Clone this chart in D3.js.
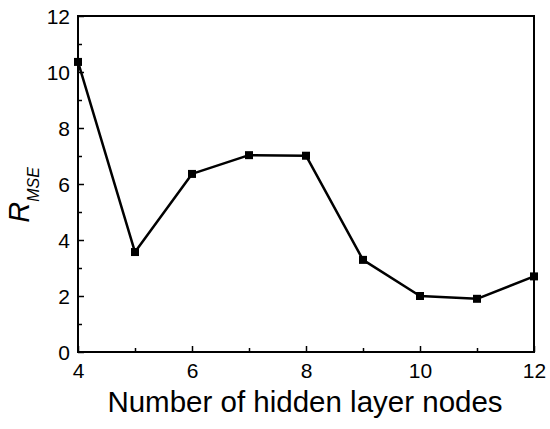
<!DOCTYPE html>
<html><head><meta charset="utf-8">
<script src="https://cdn.jsdelivr.net/npm/d3@7"></script>
<style>body{margin:0;background:#fff}svg{display:block}text{font-family:"Liberation Sans",Arial,sans-serif;fill:#000}</style>
</head><body><svg id="c" width="550" height="429"></svg>
<script>
const nodes = [4, 5, 6, 7, 8, 9, 10, 11, 12];
const rmse = [10.36, 3.57, 6.36, 7.03, 7.01, 3.29, 2.0, 1.9, 2.7];
const xTicks = [4, 6, 8, 10, 12];
const yTicks = [0, 2, 4, 6, 8, 10, 12];

const svg = d3.select("#c");
const L = 78, R = 534, T = 16, B = 352;
const x = d3.scaleLinear().domain([4, 12]).range([L, R]);
const y = d3.scaleLinear().domain([0, 12]).range([B, T]);

// frame
svg.append("rect").attr("x", L).attr("y", T).attr("width", R - L).attr("height", B - T)
  .attr("fill", "none").attr("stroke", "#000").attr("stroke-width", 2);

// x axis ticks inward
const xAx = svg.append("g").attr("transform", `translate(0,${B})`)
  .call(d3.axisBottom(x).tickValues(xTicks).tickSize(-6).tickPadding(11).tickFormat(d3.format("d")));
svg.append("g").attr("transform", `translate(0,${B})`)
  .call(d3.axisBottom(x).tickValues([5, 7, 9, 11]).tickSize(-4).tickFormat(""))
  .call(g => g.select(".domain").remove());
const yAx = svg.append("g").attr("transform", `translate(${L},0)`)
  .call(d3.axisLeft(y).tickValues(yTicks).tickSize(-6).tickPadding(8).tickFormat(d3.format("d")));
svg.append("g").attr("transform", `translate(${L},0)`)
  .call(d3.axisLeft(y).tickValues([1, 3, 5, 7, 9, 11]).tickSize(-4).tickFormat(""))
  .call(g => g.select(".domain").remove());
svg.selectAll(".domain").remove();
svg.selectAll(".tick line").attr("stroke", "#000").attr("stroke-width", 1.5);
svg.selectAll(".tick text").attr("font-size", 21).attr("font-family", "Liberation Sans, Arial, sans-serif").attr("fill", "#000");
yAx.selectAll(".tick text").attr("dy", "0.36em");

// line
const line = d3.line().x((d, i) => x(nodes[i])).y(d => y(d));
svg.append("path").datum(rmse).attr("d", line).attr("fill", "none")
  .attr("stroke", "#000").attr("stroke-width", 2.5).attr("stroke-linejoin", "round");
const s = 8;
svg.selectAll("rect.m").data(rmse).join("rect").attr("class", "m")
  .attr("x", (d, i) => x(nodes[i]) - s / 2).attr("y", d => y(d) - s / 2)
  .attr("width", s).attr("height", s).attr("fill", "#000");

// labels
svg.append("text").attr("x", 305).attr("y", 412).attr("text-anchor", "middle")
  .attr("font-size", 29.5).text("Number of hidden layer nodes");
const yl = svg.append("text").attr("transform", "translate(29,195) rotate(-90)").attr("text-anchor", "middle")
  .attr("font-style", "italic");
yl.append("tspan").attr("font-size", 29).text("R");
yl.append("tspan").attr("font-size", 16).attr("dy", 10).text("MSE");
</script></body></html>
